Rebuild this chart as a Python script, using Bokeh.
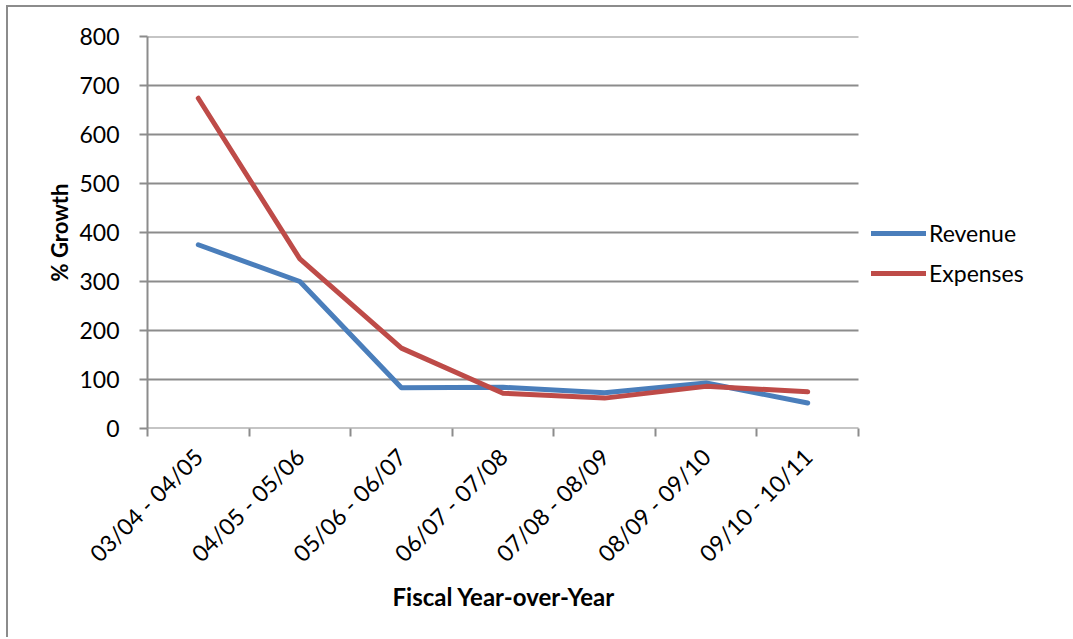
from bokeh.plotting import figure
from bokeh.models import FixedTicker, Legend, LegendItem, Range1d, Title
from bokeh.embed import file_html
from bokeh.resources import INLINE
import math

# Year-over-year growth (%) by fiscal period
periods = ["03/04 - 04/05", "04/05 - 05/06", "05/06 - 06/07", "06/07 - 07/08",
           "07/08 - 08/09", "08/09 - 09/10", "09/10 - 10/11"]
revenue = [375, 300, 83, 84, 73, 93, 52]
expenses = [674, 346, 164, 72, 62, 86, 75]
y_ticks = [0, 100, 200, 300, 400, 500, 600, 700, 800]

FONT = "Lato"
GREY = "#8c8c8c"
BLUE = "#4a7ebb"
RED = "#be4b48"

n = len(periods)
# each period sits in the middle of its band on the x axis
x_pos = [i + 0.5 for i in range(n)]
band_edges = list(range(n + 1))

# plotting area is 711px wide for the bands; the frame runs on to the right
# edge so the legend can sit beside the bands without being clipped
W, H = 1065, 632
LEFT, TOP, BOTTOM = 139, 29, 211
BAND_PX = 711
x_end = n * (W - LEFT) / BAND_PX

p = figure(width=W, height=H, output_backend="svg", toolbar_location=None,
           x_range=Range1d(0, x_end), y_range=Range1d(0, 800),
           min_border_left=LEFT, min_border_right=0, min_border_top=TOP,
           min_border_bottom=BOTTOM)
p.margin = (5, 0, 0, 6)
p.styles = {"border-left": f"2px solid {GREY}", "border-top": f"2px solid {GREY}"}
p.outline_line_color = None
p.background_fill_color = "white"
p.border_fill_color = "white"

# horizontal gridlines across the bands only (the 0 line doubles as the x axis)
p.segment(x0=[0] * len(y_ticks), x1=[n] * len(y_ticks), y0=y_ticks, y1=y_ticks,
          line_color=GREY, line_width=2)

r_rev = p.line(x_pos, revenue, line_color=BLUE, line_width=5, line_cap="round",
               line_join="round")
r_exp = p.line(x_pos, expenses, line_color=RED, line_width=5, line_cap="round",
               line_join="round")

# x axis: labels at band centres, tick marks on band edges
xa = p.xaxis[0]
xa.ticker = FixedTicker(ticks=x_pos, minor_ticks=band_edges)
xa.major_label_overrides = {x: lab for x, lab in zip(x_pos, periods)}
xa.major_label_orientation = math.pi / 4
xa.major_tick_out = 0
xa.major_tick_in = 0
xa.minor_tick_out = 8
xa.minor_tick_in = 0
xa.minor_tick_line_color = GREY
xa.minor_tick_line_width = 2
xa.axis_line_color = None
xa.major_label_text_font = FONT
xa.major_label_text_font_size = "23px"
xa.major_label_text_color = "black"
xa.major_label_standoff = 16

# x axis title, centred under the bands rather than the whole frame
x_title = Title(text="Fiscal Year-over-Year", align="left", offset=245,
                text_font=FONT, text_font_style="bold", text_font_size="24px",
                text_color="black", standoff=0)
p.add_layout(x_title, "below")

ya = p.yaxis[0]
ya.ticker = FixedTicker(ticks=y_ticks)
ya.major_tick_out = 8
ya.major_tick_in = 0
ya.minor_tick_line_color = None
ya.major_tick_line_color = GREY
ya.major_tick_line_width = 2
ya.axis_line_color = GREY
ya.axis_line_width = 2
ya.major_label_text_font = FONT
ya.major_label_text_font_size = "23px"
ya.major_label_text_color = "black"
ya.major_label_standoff = 20
ya.axis_label = "% Growth"
ya.axis_label_text_font = FONT
ya.axis_label_text_font_style = "bold"
ya.axis_label_text_font_size = "22px"
ya.axis_label_text_color = "black"
ya.axis_label_standoff = 3

p.xgrid.grid_line_color = None
p.ygrid.grid_line_color = None

legend = Legend(items=[LegendItem(label="Revenue", renderers=[r_rev]),
                       LegendItem(label="Expenses", renderers=[r_exp])],
                location=(724, 141), orientation="vertical",
                glyph_width=55, glyph_height=20, label_height=20,
                label_standoff=3, spacing=12, padding=0, margin=0,
                border_line_color=None, background_fill_alpha=0,
                label_text_font=FONT, label_text_font_size="23px",
                label_text_color="black")
p.add_layout(legend, "center")

open("out.html", "w").write(file_html(p, INLINE))
